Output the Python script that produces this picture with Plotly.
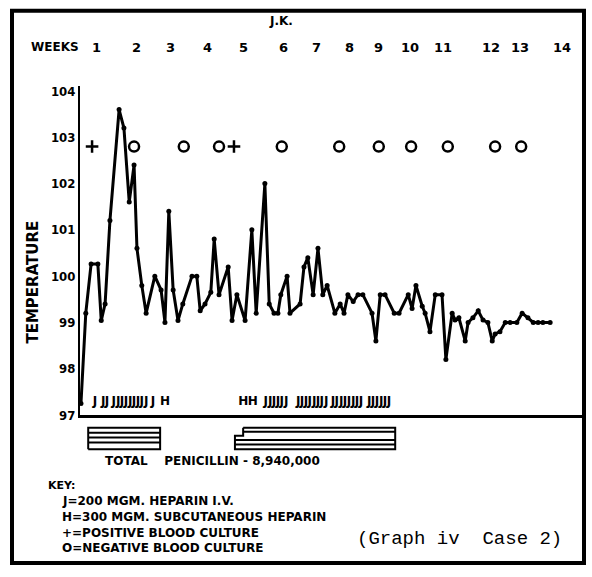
import plotly.graph_objects as go

# ---------------- data ----------------
# day index (from admission) and temperature (deg F)
days = [0.2, 1.2, 2.3, 3.7, 4.4, 5.2, 6.2, 8.1, 9.1, 10.2, 11.2, 11.8, 12.8, 13.7,
        15.5, 16.8, 17.6, 18.4, 19.3, 20.3, 21.3, 23.2, 24.2, 24.9, 25.9, 27.1,
        27.8, 28.8, 30.7, 31.5, 32.5, 34.2, 35.6, 36.5, 38.3, 39.2, 40.2, 41.0,
        41.6, 42.9, 43.5, 45.6, 46.4, 47.2, 48.3, 49.3, 50.3, 51.2, 52.8, 53.9,
        54.7, 55.5, 56.6, 57.6, 58.6, 60.5, 61.3, 62.2, 63.2, 65.1, 66.1, 68.0,
        68.8, 69.6, 70.9, 71.5, 72.5, 73.6, 75.0, 75.8, 77.1, 77.7, 78.5, 79.8,
        80.4, 81.4, 82.5, 83.5, 84.5, 85.4, 86.0, 87.0, 88.1, 89.1, 90.5, 91.6,
        92.8, 93.9, 94.9, 95.9, 97.4]
temps = [97.25, 99.2, 100.26, 100.26, 99.04, 99.4, 101.2, 103.6, 103.2, 101.6, 102.4, 100.6, 99.8, 99.2,
         100.0, 99.7, 99.0, 101.4, 99.7, 99.04, 99.4, 100.0, 100.0, 99.25, 99.4, 99.65,
         100.8, 99.6, 100.2, 99.04, 99.6, 99.04, 101.0, 99.2, 102.0, 99.4, 99.2, 99.2,
         99.6, 100.0, 99.2, 99.4, 100.2, 100.4, 99.6, 100.6, 99.6, 99.8, 99.2, 99.4,
         99.2, 99.6, 99.45, 99.6, 99.6, 99.2, 98.6, 99.6, 99.6, 99.2, 99.2, 99.6,
         99.3, 99.8, 99.35, 99.2, 98.8, 99.6, 99.6, 98.2, 99.2, 99.05, 99.1, 98.6,
         99.0, 99.1, 99.25, 99.05, 99.0, 98.6, 98.75, 98.8, 99.0, 99.0, 99.0, 99.2,
         99.1, 99.0, 99.0, 99.0, 99.0]

# blood cultures
positive_culture_days = [2.5, 31.9]
negative_culture_days = [11.2, 21.5, 28.8, 41.8, 53.7, 61.9, 68.6, 76.2, 86.0, 91.4]
culture_row_temp = 102.8

# heparin
heparin_iv_days = [3.1, 4.8, 5.6, 7.0, 7.9, 8.7, 9.5, 10.4, 11.2, 12.0, 12.8, 13.7, 15.1,
                   38.5, 39.4, 40.2, 41.0, 41.8, 42.7,
                   45.2, 46.0, 46.8, 47.6, 48.5, 49.3, 50.1, 51.0,
                   52.4, 53.2, 54.1, 54.9, 55.7, 56.6, 57.4, 58.2,
                   59.9, 60.7, 61.5, 62.4, 63.2, 64.0]
heparin_sc_days = [17.6, 33.8, 35.8]
heparin_row_temp = 97.27

# penicillin courses (day start / end)
pen1_start, pen1_end = 1.7, 16.6
pen2_start_upper, pen2_start_lower, pen2_end = 33.8, 32.1, 65.3

# week labels (positions in days as drawn)
week_pos = [3.5, 11.8, 18.7, 26.5, 33.8, 42.1, 48.9, 55.9, 61.9, 68.4, 75.2, 85.2, 91.2, 99.9]
week_text = ["1", "2", "3", "4", "5", "6", "7", "8", "9", "10", "11", "12", "13", "14"]

temp_ticks = [97, 98, 99, 100, 101, 102, 103, 104]

# ---------------- figure ----------------
W, H = 592, 577
HAND = "Liberation Sans Narrow, DejaVu Sans Condensed, Arial Narrow, DejaVu Sans, sans-serif"
HAND2 = "DejaVu Sans, Liberation Sans, sans-serif"

def px(x):
    return x / W

def py(y):
    return 1 - y / H

fig = go.Figure()

fig.add_trace(go.Scatter(
    x=days, y=temps, mode="lines+markers",
    line=dict(color="black", width=3),
    marker=dict(color="black", size=5),
    hoverinfo="skip", showlegend=False))

fig.add_trace(go.Scatter(
    x=positive_culture_days, y=[culture_row_temp] * len(positive_culture_days),
    mode="markers",
    marker=dict(symbol="cross-thin", size=9, line=dict(color="black", width=2.5)),
    showlegend=False))
fig.add_trace(go.Scatter(
    x=negative_culture_days, y=[culture_row_temp] * len(negative_culture_days),
    mode="markers",
    marker=dict(symbol="circle-open", size=10, color="black", line=dict(color="black", width=2.5)),
    showlegend=False))

fig.add_trace(go.Scatter(
    x=heparin_iv_days, y=[heparin_row_temp] * len(heparin_iv_days),
    mode="text", text=["J"] * len(heparin_iv_days),
    textfont=dict(family=HAND2, size=12, color="black", weight="bold"),
    showlegend=False))
fig.add_trace(go.Scatter(
    x=heparin_sc_days, y=[heparin_row_temp] * len(heparin_sc_days),
    mode="text", text=["H"] * len(heparin_sc_days),
    textfont=dict(family=HAND2, size=12, color="black", weight="bold"),
    showlegend=False))

# penicillin boxes on lower axis (y2, 0..1)
top, bot = 0.89, 0.11
stripes = [0.71, 0.54, 0.36]
bx, by = [], []
# box 1
bx += [pen1_start, pen1_end, pen1_end, pen1_start, pen1_start, None]
by += [bot, bot, top, top, bot, None]
for s in stripes:
    bx += [pen1_start, pen1_end, None]
    by += [s, s, None]
# box 2 (stepped left edge)
step = 0.6
bx += [pen2_start_upper, pen2_end, pen2_end, pen2_start_lower, pen2_start_lower, pen2_start_upper, pen2_start_upper, None]
by += [top, top, bot, bot, step, step, top, None]
for s in [0.75, 0.45, 0.28]:
    x0 = pen2_start_upper if s > step else pen2_start_lower
    bx += [x0, pen2_end, None]
    by += [s, s, None]
fig.add_trace(go.Scatter(x=bx, y=by, mode="lines", yaxis="y2",
                         line=dict(color="black", width=2), showlegend=False, hoverinfo="skip"))

fig.update_layout(
    width=W, height=H,
    margin=dict(l=0, r=0, t=0, b=0),
    paper_bgcolor="white", plot_bgcolor="white",
    xaxis=dict(domain=[px(80), px(582)], range=[0, 104], showgrid=False, zeroline=False,
               showline=True, linecolor="black", linewidth=3, showticklabels=False, ticks=""),
    yaxis=dict(domain=[py(420), py(85)], range=[97, 104.1], showgrid=False, zeroline=False,
               showline=True, linecolor="black", linewidth=2, ticks="",
               tickvals=temp_ticks, ticktext=[str(t) for t in temp_ticks],
               tickfont=dict(family=HAND, size=13, color="black", weight="bold")),
    yaxis2=dict(domain=[py(458), py(430)], range=[0, 1], anchor="x", visible=False),
)

def ann(x, y, text, size=12, xanchor="center", xref="paper", family=HAND2, bold=True, angle=0):
    return dict(x=x, y=y, xref=xref, yref="paper", text=text, showarrow=False,
                xanchor=xanchor, yanchor="middle", textangle=angle,
                font=dict(family=family, size=size, color="black",
                          weight="bold" if bold else "normal"))

annos = []
annos.append(ann(px(281), py(18), "J.K."))
annos.append(ann(px(55), py(45), "WEEKS"))
for p, t in zip(week_pos, week_text):
    annos.append(ann(p, py(45), t, size=13, xref="x"))
annos.append(ann(px(33), py(285), "TEMPERATURE", size=15, angle=-90))
annos.append(ann(px(103), py(467), "TOTAL\u00a0\u00a0\u00a0\u00a0PENICILLIN - 8,940,000",
                 size=12, xanchor="left"))
annos.append(ann(px(46), py(492), "KEY:", size=11, xanchor="left"))
key_lines = ["J=200 MGM. HEPARIN I.V.", "H=300 MGM. SUBCUTANEOUS HEPARIN",
             "+=POSITIVE BLOOD CULTURE", "O=NEGATIVE BLOOD CULTURE"]
for i, t in enumerate(key_lines):
    annos.append(ann(px(60), py(508 + 16 * i), t, size=12, xanchor="left"))
annos.append(ann(px(355), py(546), "(Graph iv\u00a0\u00a0Case 2)", size=19, xanchor="left",
                 family="Liberation Mono, Courier New, monospace", bold=False))
fig.update_layout(annotations=annos)

fig.add_shape(type="rect", xref="paper", yref="paper",
              x0=px(12), x1=px(584), y0=py(571), y1=py(8),
              line=dict(color="black", width=4), fillcolor="rgba(0,0,0,0)")

fig.write_html("out.html")
